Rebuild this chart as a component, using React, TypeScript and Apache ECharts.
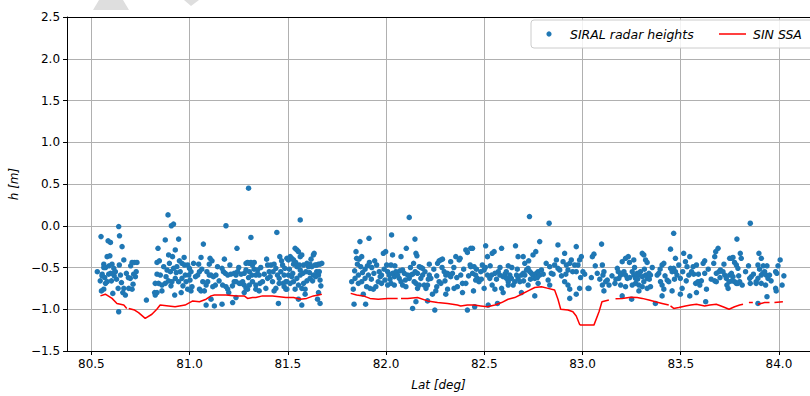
import React, { useEffect, useRef } from 'react';
import * as echarts from 'echarts';

const latTicks = [80.5, 81.0, 81.5, 82.0, 82.5, 83.0, 83.5, 84.0];
const latRange = [80.376, 84.158];
const hRange = [-1.5, 2.5];

const siralA = [
  [80.549,-0.13],[80.639,-0.01],[80.643,-0.12],[80.656,-0.25],[80.585,-0.18],[80.597,-0.20],[80.580,-0.37],[80.594,-0.36],[80.563,-0.46],[80.572,-0.50],[80.555,-0.58],[80.605,-0.46],[80.614,-0.51],[80.622,-0.55],[80.597,-0.57],[80.588,-0.58],[80.580,-0.67],[80.572,-0.69],[80.551,-0.78],[80.563,-0.76],[80.609,-0.81],[80.636,-0.75],[80.648,-0.59],[80.665,-0.75],[80.660,-0.80],[80.673,-0.83],[80.690,-0.75],[80.707,-0.76],[80.698,-0.63],[80.715,-0.58],[80.724,-0.61],[80.720,-0.44],[80.732,-0.44],[80.665,-0.41],[80.639,-1.03],[80.780,-0.89],[80.822,-0.80],[80.834,-0.80],[80.825,-0.69],[80.842,-0.69],[80.859,-0.71],[80.876,-0.69],[80.834,-0.58],[80.851,-0.59],[80.834,-0.44],[80.846,-0.42],[80.839,-0.27],[80.876,-0.17],[80.890,0.13],[80.907,0.00],[80.918,0.02],[80.893,-0.35],[80.913,-0.37],[80.927,-0.29],[80.944,-0.16],[80.885,-0.53],[80.902,-0.55],[80.918,-0.51],[80.935,-0.49],[80.952,-0.55],[80.961,-0.45],[80.974,-0.47],[80.893,-0.66],[80.910,-0.67],[80.927,-0.63],[80.944,-0.67],[80.961,-0.63],[80.978,-0.59],[80.924,-0.83],[80.957,-0.80],[80.859,-0.78],
  [80.563,-0.50],[80.554,-0.60],[80.610,-0.57],[80.616,-0.60],[80.707,-0.44],[80.688,-0.62],[80.825,-0.83]
];

const siralB = [
  [81.300,0.45],[81.185,0.00],[81.312,-0.14],[81.444,-0.08],[81.459,-0.37],[81.070,-0.22],[81.241,-0.27],[81.058,-0.38],[81.104,-0.39],[81.114,-0.42],[81.100,-0.46],[81.177,-0.40],[80.990,-0.47],[80.999,-0.51],[81.007,-0.55],[80.996,-0.59],[81.046,-0.46],[81.050,-0.55],[81.041,-0.59],[81.067,-0.67],[81.084,-0.71],[81.092,-0.67],[81.100,-0.59],[81.109,-0.59],[81.121,-0.61],[81.134,-0.59],[81.131,-0.71],[80.982,-0.67],[81.002,-0.65],[81.012,-0.73],[80.990,-0.76],[81.007,-0.78],[81.050,-0.76],[81.058,-0.78],[81.075,-0.78],[81.165,-0.51],[81.172,-0.55],[81.182,-0.57],[81.194,-0.59],[81.210,-0.58],[81.227,-0.57],[81.236,-0.59],[81.244,-0.55],[81.168,-0.71],[81.185,-0.73],[81.194,-0.76],[81.199,-0.80],[81.227,-0.67],[81.236,-0.67],[81.253,-0.69],[81.261,-0.69],[81.278,-0.57],[81.287,-0.45],[81.295,-0.44],[81.304,-0.45],[81.312,-0.44],[81.320,-0.47],[81.329,-0.44],[81.287,-0.53],[81.304,-0.55],[81.317,-0.59],[81.337,-0.59],[81.346,-0.58],[81.354,-0.59],[81.346,-0.53],[81.270,-0.67],[81.278,-0.71],[81.287,-0.75],[81.304,-0.71],[81.320,-0.67],[81.337,-0.71],[81.358,-0.69],[81.371,-0.67],[81.295,-0.76],[81.278,-0.80],[81.337,-0.76],[81.354,-0.78],[81.219,-0.92],[81.236,-0.86],[81.165,-0.94],[81.126,-0.96],[81.084,-0.95],[81.109,-0.88],[81.397,-0.47],[81.414,-0.47],[81.430,-0.46],[81.439,-0.51],[81.447,-0.59],[81.456,-0.63],[81.464,-0.55],[81.473,-0.47],[81.481,-0.59],[81.490,-0.67],[81.405,-0.55],[81.397,-0.63],[81.422,-0.67],[81.439,-0.75],[81.456,-0.69],[81.481,-0.73],[81.388,-0.75],[81.430,-0.78],[81.490,-0.76],[81.452,-0.93]
];

const siralC = [
  [81.563,0.07],[81.495,-0.39],[81.503,-0.41],[81.512,-0.37],[81.520,-0.39],[81.529,-0.41],[81.537,-0.27],[81.546,-0.29],[81.554,-0.31],[81.563,-0.37],[81.571,-0.35],[81.529,-0.46],[81.546,-0.49],[81.563,-0.53],[81.580,-0.47],[81.597,-0.45],[81.605,-0.49],[81.613,-0.46],[81.622,-0.49],[81.630,-0.35],[81.634,-0.33],[81.639,-0.47],[81.647,-0.47],[81.656,-0.46],[81.664,-0.46],[81.673,-0.45],[81.647,-0.55],[81.656,-0.59],[81.664,-0.65],[81.630,-0.59],[81.613,-0.63],[81.597,-0.66],[81.580,-0.69],[81.563,-0.59],[81.546,-0.63],[81.529,-0.67],[81.512,-0.69],[81.495,-0.67],[81.503,-0.59],[81.520,-0.61],[81.554,-0.71],[81.571,-0.75],[81.588,-0.76],[81.537,-0.76],[81.495,-0.76],[81.656,-0.80],[81.554,-0.88],[81.571,-0.95],[81.651,-0.88],[81.664,-0.93],[81.588,-0.82]
];

const siralD = [
  [81.867,-0.19],[81.913,-0.15],[81.847,-0.31],[81.850,-0.39],[81.871,-0.49],[81.893,-0.52],[81.915,-0.44],[81.927,-0.50],[81.938,-0.57],[81.952,-0.47],[81.965,-0.55],[81.977,-0.59],[81.986,-0.33],[81.998,-0.31],[82.003,-0.47],[81.859,-0.59],[81.842,-0.63],[81.825,-0.67],[81.833,-0.76],[81.859,-0.69],[81.876,-0.67],[81.893,-0.63],[81.910,-0.59],[81.901,-0.73],[81.918,-0.75],[81.935,-0.76],[81.948,-0.73],[81.960,-0.67],[81.977,-0.69],[81.994,-0.65],[81.884,-0.82],[81.837,-0.94],[81.896,-0.94],[81.854,-0.46],[81.876,-0.37],
  [82.118,0.10],[82.028,-0.11],[82.147,-0.16],[82.103,-0.27],[82.076,-0.37],[82.033,-0.35],[82.152,-0.33],[82.157,-0.36],[82.140,-0.45],[82.025,-0.47],[82.008,-0.55],[82.016,-0.59],[82.033,-0.57],[82.042,-0.61],[82.050,-0.55],[82.059,-0.59],[82.067,-0.63],[82.076,-0.67],[82.084,-0.71],[82.101,-0.73],[82.110,-0.59],[82.118,-0.63],[82.126,-0.59],[82.135,-0.58],[82.143,-0.67],[82.152,-0.69],[82.160,-0.75],[82.169,-0.71],[82.177,-0.63],[82.186,-0.59],[82.160,-0.57],[82.169,-0.49],[82.177,-0.50],[82.186,-0.51],[82.194,-0.71],[82.203,-0.75],[82.211,-0.71],[82.220,-0.59],[82.220,-0.46],[82.228,-0.63],[82.236,-0.82],[82.253,-0.78],[82.262,-0.45],[82.270,-0.42],[82.279,-0.41],[82.287,-0.40],[82.258,-0.73],[82.270,-0.67],[82.279,-0.69],[82.296,-0.55],[82.304,-0.59],[82.313,-0.57],[82.321,-0.59],[82.329,-0.61],[82.338,-0.57],[82.304,-0.82],[82.313,-0.76],[82.329,-0.43],[82.355,-0.37],[82.372,-0.41],[82.377,-0.39],[82.380,-0.59],[82.389,-0.69],[82.363,-0.73],[82.346,-0.75],[82.389,-0.80],[82.406,-0.29],[82.414,-0.32],[82.431,-0.27],[82.440,-0.27],[82.428,-0.47],[82.431,-0.49],[82.448,-0.49],[82.456,-0.59],[82.465,-0.63],[82.473,-0.67],[82.482,-0.55],[82.490,-0.47],[82.499,-0.53],[82.507,-0.24],[82.516,-0.37],[82.440,-0.57],[82.445,-0.78],[82.456,-0.65],[82.406,-0.69],[82.499,-0.75],[82.516,-0.59],[82.135,-0.99],[82.152,-0.91],[82.211,-0.90],[82.248,-1.01],[82.414,-1.01],[82.451,-0.97],[82.008,-0.71],[82.025,-0.69],[82.042,-0.71],[82.093,-0.57],[82.084,-0.53]
];

const siralE = [
  [82.730,0.11],[82.830,0.03],[82.782,-0.19],[82.659,-0.24],[82.588,-0.27],[82.875,-0.23],[82.968,-0.25],[82.540,-0.33],[82.550,-0.31],[82.672,-0.37],[82.698,-0.37],[82.706,-0.45],[82.748,-0.35],[82.762,-0.31],[82.726,-0.42],[82.622,-0.48],[82.571,-0.55],[82.537,-0.59],[82.554,-0.57],[82.579,-0.59],[82.596,-0.61],[82.605,-0.58],[82.613,-0.63],[82.622,-0.67],[82.630,-0.59],[82.638,-0.63],[82.647,-0.71],[82.655,-0.67],[82.664,-0.59],[82.672,-0.63],[82.681,-0.67],[82.689,-0.59],[82.698,-0.57],[82.706,-0.59],[82.715,-0.53],[82.723,-0.51],[82.732,-0.55],[82.740,-0.57],[82.748,-0.59],[82.757,-0.63],[82.765,-0.57],[82.774,-0.55],[82.782,-0.59],[82.791,-0.53],[82.833,-0.49],[82.841,-0.57],[82.858,-0.47],[82.867,-0.41],[82.875,-0.51],[82.884,-0.53],[82.901,-0.43],[82.909,-0.33],[82.918,-0.47],[82.926,-0.53],[82.935,-0.45],[82.943,-0.41],[82.960,-0.47],[82.968,-0.55],[82.977,-0.47],[82.985,-0.41],[82.994,-0.37],[83.002,-0.55],[83.011,-0.58],[82.540,-0.71],[82.554,-0.76],[82.588,-0.75],[82.596,-0.80],[82.622,-0.71],[82.689,-0.80],[82.723,-0.71],[82.774,-0.69],[82.825,-0.65],[82.833,-0.71],[82.909,-0.67],[82.926,-0.71],[82.935,-0.76],[82.968,-0.82],[82.985,-0.75],[83.028,-0.75],[82.935,-0.87],[82.757,-0.84],[82.567,-0.93],[82.520,-0.95],[82.528,-0.63]
];

const siralF = [
  [83.097,-0.22],[83.058,-0.34],[83.050,-0.37],[83.101,-0.47],[83.109,-0.55],[83.104,-0.59],[83.075,-0.57],[83.126,-0.65],[83.135,-0.71],[83.101,-0.71],[83.109,-0.78],[83.033,-0.75],[83.118,-0.67],[83.177,-0.51],[83.182,-0.55],[83.194,-0.59],[83.185,-0.63],[83.202,-0.57],[83.211,-0.55],[83.219,-0.59],[83.228,-0.63],[83.202,-0.43],[83.219,-0.39],[83.233,-0.37],[83.239,-0.44],[83.261,-0.41],[83.304,-0.33],[83.312,-0.35],[83.321,-0.41],[83.329,-0.44],[83.253,-0.55],[83.261,-0.59],[83.270,-0.63],[83.278,-0.57],[83.287,-0.59],[83.295,-0.55],[83.304,-0.61],[83.312,-0.67],[83.321,-0.59],[83.329,-0.63],[83.338,-0.57],[83.346,-0.59],[83.287,-0.71],[83.304,-0.73],[83.329,-0.75],[83.346,-0.73],[83.165,-0.69],[83.194,-0.71],[83.219,-0.73],[83.253,-0.71],[83.270,-0.69],[83.287,-0.78],[83.380,-0.59],[83.388,-0.57],[83.405,-0.47],[83.414,-0.45],[83.397,-0.67],[83.405,-0.71],[83.414,-0.76],[83.431,-0.65],[83.439,-0.67],[83.448,-0.51],[83.456,-0.55],[83.464,-0.51],[83.473,-0.55],[83.481,-0.59],[83.448,-0.28],[83.464,-0.09],[83.473,-0.39],[83.490,-0.47],[83.498,-0.63],[83.515,-0.33],[83.524,-0.43],[83.532,-0.49],[83.541,-0.59],[83.507,-0.75],[83.456,-0.78],[83.405,-0.84],[83.498,-0.82],[83.202,-0.84],[83.250,-0.88],[83.371,-0.93]
];

const siralG = [
  [83.854,0.03],[83.786,-0.16],[83.690,-0.27],[83.678,-0.31],[83.673,-0.37],[83.668,-0.45],[83.622,-0.42],[83.614,-0.45],[83.580,-0.47],[83.563,-0.49],[83.546,-0.37],[83.566,-0.58],[83.576,-0.69],[83.588,-0.67],[83.605,-0.66],[83.597,-0.71],[83.622,-0.57],[83.631,-0.76],[83.580,-0.80],[83.546,-0.84],[83.627,-0.91],[83.681,-0.57],[83.695,-0.55],[83.702,-0.53],[83.681,-0.67],[83.673,-0.66],[83.715,-0.55],[83.724,-0.59],[83.732,-0.63],[83.735,-0.71],[83.741,-0.75],[83.746,-0.67],[83.749,-0.59],[83.758,-0.57],[83.766,-0.61],[83.774,-0.67],[83.783,-0.69],[83.749,-0.39],[83.758,-0.39],[83.766,-0.38],[83.774,-0.44],[83.783,-0.47],[83.791,-0.51],[83.803,-0.33],[83.808,-0.39],[83.800,-0.67],[83.813,-0.71],[83.791,-0.69],[83.851,-0.63],[83.859,-0.61],[83.854,-0.69],[83.884,-0.67],[83.893,-0.63],[83.893,-0.47],[83.898,-0.33],[83.910,-0.39],[83.901,-0.52],[83.910,-0.59],[83.918,-0.57],[83.927,-0.55],[83.935,-0.59],[83.939,-0.48],[83.944,-0.63],[83.952,-0.59],[83.932,-0.71],[83.910,-0.69],[83.884,-0.69],[83.983,-0.55],[83.989,-0.57],[83.983,-0.75],[83.986,-0.78],[84.006,-0.41],[84.016,-0.71],[83.939,-0.85],[83.893,-0.93]
];

const siralExtra = [
  [80.530,-0.55],[80.545,-0.66],[80.568,-0.62],[80.590,-0.48],[80.602,-0.66],[80.628,-0.64],[80.642,-0.47],[80.653,-0.68],[80.678,-0.57],[80.700,-0.48],[80.712,-0.70],[80.728,-0.55],
  [80.868,-0.49],[80.880,-0.61],[80.897,-0.45],[80.905,-0.72],[80.932,-0.56],[80.948,-0.42],[80.966,-0.72],[80.972,-0.38],
  [81.020,-0.45],[81.030,-0.61],[81.062,-0.52],[81.088,-0.55],[81.118,-0.73],[81.142,-0.49],[81.150,-0.66],[81.205,-0.47],[81.218,-0.72],[81.250,-0.50],[81.262,-0.58],[81.300,-0.62],[81.328,-0.52],[81.362,-0.50],[81.380,-0.58],[81.392,-0.40],[81.410,-0.61],[81.425,-0.55],[81.468,-0.42],[81.476,-0.69],[81.485,-0.51],
  [81.508,-0.52],[81.525,-0.57],[81.540,-0.44],[81.558,-0.47],[81.576,-0.57],[81.592,-0.55],[81.610,-0.56],[81.618,-0.40],[81.626,-0.66],[81.642,-0.61],[81.660,-0.55],[81.668,-0.72],
  [81.840,-0.54],[81.862,-0.40],[81.880,-0.56],[81.905,-0.48],[81.925,-0.64],[81.942,-0.42],[81.970,-0.61],[81.990,-0.52],[82.020,-0.64],[82.045,-0.48],[82.070,-0.54],[82.098,-0.65],[82.124,-0.50],[82.148,-0.55],[82.198,-0.55],[82.215,-0.64],[82.243,-0.52],[82.258,-0.60],[82.285,-0.50],[82.300,-0.66],[82.345,-0.50],[82.360,-0.62],[82.395,-0.52],[82.420,-0.60],[82.460,-0.52],[82.485,-0.64],[82.505,-0.50],
  [82.530,-0.48],[82.562,-0.64],[82.580,-0.50],[82.612,-0.55],[82.640,-0.50],[82.668,-0.52],[82.700,-0.66],[82.735,-0.64],[82.770,-0.62],[82.800,-0.58],[82.815,-0.45],[82.850,-0.58],[82.893,-0.60],[82.915,-0.58],[82.950,-0.55],[82.990,-0.62],
  [83.045,-0.62],[83.065,-0.48],[83.088,-0.64],[83.150,-0.60],[83.170,-0.64],[83.240,-0.62],[83.265,-0.50],[83.280,-0.64],[83.315,-0.52],[83.340,-0.64],[83.355,-0.50],[83.395,-0.52],[83.420,-0.60],[83.468,-0.64],[83.510,-0.55],[83.528,-0.66],
  [83.555,-0.55],[83.590,-0.58],[83.640,-0.52],[83.655,-0.64],[83.700,-0.62],[83.720,-0.46],[83.760,-0.66],[83.795,-0.60],[83.830,-0.55],[83.845,-0.48],[83.870,-0.58],[83.920,-0.48],[83.960,-0.66],[83.995,-0.48],[84.025,-0.60]
];

// SIN SSA: [lat, h]; a null h marks a gap in the line
const sinSsaWest = [
  [80.546,-0.84],[80.571,-0.82],[80.605,-0.87],[80.630,-0.93],[80.665,-0.95],[80.680,-0.99],[80.684,null],[80.690,-0.99],[80.720,-1.01],[80.740,-1.04],[80.774,-1.11],[80.808,-1.06],[80.833,-1.00],[80.850,-0.95],[80.893,-0.96],[80.926,-0.97],[80.977,-0.95],[81.016,-0.90],[81.050,-0.91],[81.084,-0.88],[81.109,-0.84],[81.126,-0.83],[81.185,-0.83],[81.236,-0.84],[81.278,-0.84],[81.295,-0.87],[81.320,-0.86],[81.337,-0.86],[81.371,-0.84],[81.422,-0.84],[81.456,-0.85],[81.490,-0.86],[81.529,-0.86],[81.563,-0.88],[81.596,-0.87],[81.630,-0.84],[81.673,-0.82],[81.750,null]
];
const sinSsaMid = [
  [81.820,-0.81],[81.850,-0.83],[81.884,-0.84],[81.918,-0.87],[81.960,-0.88],[82.008,-0.87],[82.059,-0.87],[82.068,null],[82.076,-0.87],[82.110,-0.87],[82.160,-0.86],[82.211,-0.90],[82.262,-0.92],[82.313,-0.93],[82.363,-0.95],[82.380,-0.96],[82.414,-0.95],[82.448,-0.95],[82.482,-0.96],[82.516,-0.97],[82.554,-0.95],[82.588,-0.92],[82.621,-0.88],[82.655,-0.86],[82.689,-0.82],[82.723,-0.78],[82.757,-0.74],[82.791,-0.73],[82.825,-0.75],[82.858,-0.77],[82.875,-0.88],[82.889,-1.00],[82.926,-1.01],[82.951,-1.03],[82.968,-1.08],[82.985,-1.18],[82.991,-1.19],[83.058,-1.19],[83.084,-1.03],[83.099,-0.91],[83.134,-0.89],[83.150,null]
];
const sinSsaEast = [
  [83.168,-0.875],[83.202,-0.87],[83.245,-0.855],[83.278,-0.86],[83.304,-0.87],[83.338,-0.89],[83.371,-0.91],[83.405,-0.93],[83.439,-0.95],[83.444,null],[83.448,-0.96],[83.464,-0.99],[83.490,-0.98],[83.524,-0.96],[83.551,-0.95],[83.580,-0.94],[83.622,-0.96],[83.648,-0.95],[83.681,-0.94],[83.715,-0.97],[83.746,-1.00],[83.774,-0.97],[83.800,-0.95],[83.817,-0.94],[83.832,null],[83.847,-0.92],[83.867,-0.92],[83.880,null],[83.893,-0.94],[83.927,-0.92],[83.952,-0.92],[83.965,null],[83.977,-0.92],[84.020,-0.91]
];

const siralAll = [...siralA, ...siralB, ...siralC, ...siralD, ...siralE, ...siralF, ...siralG, ...siralExtra];
const sinSsaAll = [...sinSsaWest, ...sinSsaMid, ...sinSsaEast];

const FONT = '"DejaVu Sans", sans-serif';
const fmt = (v: number) => v.toFixed(1).replace('-', '\u2212');

export default function App() {
  const ref = useRef<HTMLDivElement>(null);
  useEffect(() => {
    if (!ref.current) return;
    const chart = echarts.init(ref.current, undefined, { renderer: 'svg' });
    chart.setOption({
      animation: false,
      backgroundColor: '#ffffff',
      grid: { left: 65, top: 17, right: 0, height: 339, show: false, containLabel: false },
      xAxis: [
        {
          type: 'value',
          min: latRange[0],
          max: latRange[1],
          name: 'Lat [deg]',
          nameLocation: 'middle',
          nameGap: 28,
          nameTextStyle: { fontFamily: FONT, fontSize: 12, fontStyle: 'italic', color: '#000' },
          axisLine: { show: true, onZero: false, lineStyle: { color: '#000', width: 1 } },
          axisTick: { show: true, length: 4, lineStyle: { color: '#000' }, customValues: latTicks },
          axisLabel: { customValues: latTicks, formatter: fmt, fontFamily: FONT, fontSize: 12, color: '#000', margin: 7 },
          splitLine: { show: true, lineStyle: { color: '#b0b0b0', width: 1 } },
        },
        {
          type: 'value',
          position: 'top',
          min: latRange[0],
          max: latRange[1],
          axisLine: { show: true, onZero: false, lineStyle: { color: '#000', width: 1 } },
          axisTick: { show: false },
          axisLabel: { show: false },
          splitLine: { show: false },
        },
      ],
      yAxis: {
        type: 'value',
        min: hRange[0],
        max: hRange[1],
        interval: 0.5,
        name: 'h [m]',
        nameLocation: 'middle',
        nameGap: 45,
        nameTextStyle: { fontFamily: FONT, fontSize: 12, fontStyle: 'italic', color: '#000' },
        axisLine: { show: true, lineStyle: { color: '#000', width: 1 } },
        axisTick: { show: true, length: 4, lineStyle: { color: '#000' } },
        axisLabel: { formatter: fmt, fontFamily: FONT, fontSize: 12, color: '#000', margin: 7 },
        splitLine: { show: true, lineStyle: { color: '#b0b0b0', width: 1 } },
      },
      series: [
        {
          name: 'SIRAL radar heights',
          type: 'scatter',
          data: siralAll,
          symbol: 'circle',
          symbolSize: 5.5,
          itemStyle: { color: '#1f77b4', opacity: 1 },
          z: 2,
        },
        {
          name: 'SIN SSA',
          type: 'line',
          data: sinSsaAll,
          showSymbol: false,
          connectNulls: false,
          lineStyle: { color: '#ff0000', width: 1.5 },
          z: 3,
        },
      ],
      graphic: [
        { type: 'polygon', shape: { points: [[99, 0], [123, 0], [129, 10], [93, 10]] }, style: { fill: '#dedede' }, z: 1 },
        { type: 'polygon', shape: { points: [[184, 0], [199, 0], [191, 6]] }, style: { fill: '#dedede' }, z: 1 },
        { type: 'rect', shape: { x: 531, y: 20, width: 295, height: 28, r: 3 }, style: { fill: 'rgba(255,255,255,0.85)', stroke: '#cccccc', lineWidth: 1 }, z: 10 },
        { type: 'circle', shape: { cx: 549, cy: 34, r: 2.6 }, style: { fill: '#1f77b4' }, z: 11 },
        { type: 'text', x: 570, y: 34, style: { text: 'SIRAL radar heights', font: 'italic 12.5px "DejaVu Sans"', fill: '#000', verticalAlign: 'middle' }, z: 11 },
        { type: 'line', shape: { x1: 719, y1: 34, x2: 746, y2: 34 }, style: { stroke: '#ff0000', lineWidth: 1.5 }, z: 11 },
        { type: 'text', x: 753, y: 34, style: { text: 'SIN SSA', font: 'italic 12.5px "DejaVu Sans"', fill: '#000', verticalAlign: 'middle' }, z: 11 },
      ],
    });
    return () => chart.dispose();
  }, []);
  return <div ref={ref} style={{ position: 'fixed', left: 0, top: 0, width: 810, height: 396, background: '#fff' }} />;
}
